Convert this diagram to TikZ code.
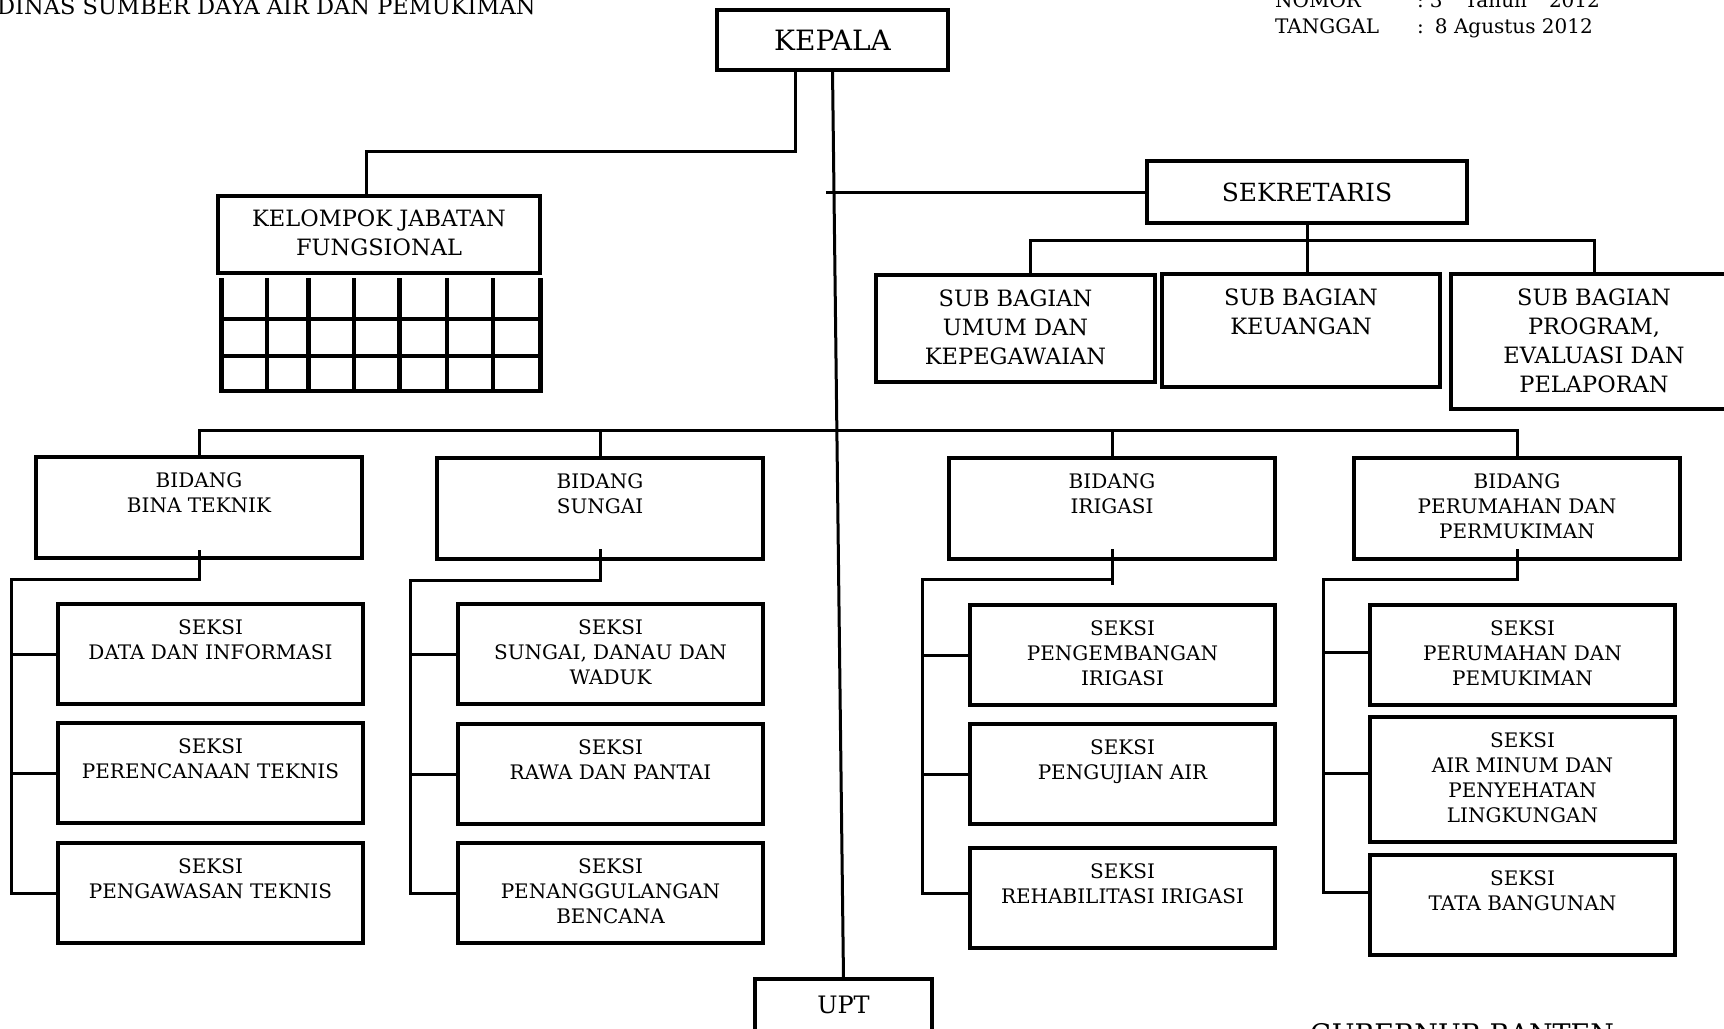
\documentclass[tikz,border=0pt]{standalone}
\usepackage{fontspec}
\setmainfont{DejaVu Serif}
\usetikzlibrary{calc}

\tikzset{
  kotak/.style={draw, line width=3.5pt, inner sep=0pt, outer sep=0pt, anchor=north west},
  isi/.style={anchor=north, yshift=-15pt, align=center, inner sep=0pt, font=\fontsize{20}{25}\selectfont},
  isibesar/.style={isi, font=\fontsize{22.5}{29}\selectfont},
  bidang/.style={kotak, minimum width=326pt, minimum height=101pt},
  seksi/.style={kotak, minimum width=305pt, minimum height=100pt},
  garis/.style={line width=3pt},
  tabel/.style={line width=4.5pt}
}

\begin{document}
\begin{tikzpicture}[x=1pt, y=-1pt]
		\useasboundingbox (0,0) rectangle (1724,1028);
		%Header texts
		\node[anchor=base west, inner sep=0pt, font=\fontsize{22.5}{27}\selectfont] (dinas) at (-3,14) {DINAS SUMBER DAYA AIR DAN PEMUKIMAN};
		\node[anchor=base west, inner sep=0pt, font=\fontsize{20}{26}\selectfont] (nomor) at (1275,7) {\begin{tabular}[t]{@{}p{142pt}@{}l@{}}NOMOR & :\hspace{6pt}3\hspace{22pt}Tahun\hspace{22pt}2012\\ TANGGAL & :\hspace{11pt}8 Agustus 2012\end{tabular}};
		\node[anchor=base west, inner sep=0pt, font=\fontsize{27}{32}\selectfont] (gub) at (1310,1043) {GUBERNUR BANTEN};
		%Kepala and sekretaris
		\node[kotak, anchor=center, minimum width=231pt, minimum height=60pt, font=\fontsize{28}{34}\selectfont] (kepala) at (832.5,40) {KEPALA};
		\node[kotak, anchor=center, minimum width=320pt, minimum height=62pt, font=\fontsize{25}{30}\selectfont] (sek) at (1307,192) {SEKRETARIS};
		\node[kotak, minimum width=322pt, minimum height=77pt, label={[isibesar, yshift=1pt]north:{KELOMPOK JABATAN\\FUNGSIONAL}}] (kjf) at (218,196) {};
		%Sub bagian
		\node[kotak, minimum width=279pt, minimum height=107pt, label={[isibesar]north:{SUB BAGIAN\\UMUM DAN\\KEPEGAWAIAN}}] (umum) at (876,275) {};
		\node[kotak, minimum width=278pt, minimum height=113pt, label={[isibesar]north:{SUB BAGIAN\\KEUANGAN}}] (keu) at (1162,274) {};
		\node[kotak, minimum width=286pt, minimum height=135pt, label={[isibesar]north:{SUB BAGIAN\\PROGRAM,\\EVALUASI DAN\\PELAPORAN}}] (prog) at (1451,274) {};
		%Bidang
		\node[bidang, label={[isi]north:{BIDANG\\BINA TEKNIK}}] (bt) at (36,457) {};
		\node[bidang, label={[isi]north:{BIDANG\\SUNGAI}}] (sg) at (437,458) {};
		\node[bidang, label={[isi]north:{BIDANG\\IRIGASI}}] (ir) at (949,458) {};
		\node[bidang, label={[isi]north:{BIDANG\\PERUMAHAN DAN\\PERMUKIMAN}}] (pr) at (1354,458) {};
		%Seksi
		\node[seksi, label={[isi]north:{SEKSI\\DATA DAN INFORMASI}}] (s11) at (58,604) {};
		\node[seksi, label={[isi]north:{SEKSI\\PERENCANAAN TEKNIS}}] (s12) at (58,723) {};
		\node[seksi, label={[isi]north:{SEKSI\\PENGAWASAN TEKNIS}}] (s13) at (58,843) {};
		\node[seksi, label={[isi]north:{SEKSI\\SUNGAI, DANAU DAN\\WADUK}}] (s21) at (458,604) {};
		\node[seksi, label={[isi]north:{SEKSI\\RAWA DAN PANTAI}}] (s22) at (458,724) {};
		\node[seksi, label={[isi]north:{SEKSI\\PENANGGULANGAN\\BENCANA}}] (s23) at (458,843) {};
		\node[seksi, label={[isi]north:{SEKSI\\PENGEMBANGAN\\IRIGASI}}] (s31) at (970,605) {};
		\node[seksi, label={[isi]north:{SEKSI\\PENGUJIAN AIR}}] (s32) at (970,724) {};
		\node[seksi, label={[isi]north:{SEKSI\\REHABILITASI IRIGASI}}] (s33) at (970,848) {};
		\node[seksi, label={[isi]north:{SEKSI\\PERUMAHAN DAN\\PEMUKIMAN}}] (s41) at (1370,605) {};
		\node[seksi, minimum height=125pt, label={[isi]north:{SEKSI\\AIR MINUM DAN\\PENYEHATAN\\LINGKUNGAN}}] (s42) at (1370,717) {};
		\node[seksi, label={[isi]north:{SEKSI\\TATA BANGUNAN}}] (s43) at (1370,855) {};
		%UPT
		\node[kotak, minimum width=177pt, minimum height=100pt, label={[isi, yshift=-2pt, font=\fontsize{24}{29}\selectfont]north:UPT}] (upt) at (755,979) {};
		%Table under kelompok jabatan fungsional
		\foreach \x in {221.5,267,308.5,354,399.5,447,493,540.5}
			\draw[tabel] (\x,278) -- (\x,393);
		\foreach \y in {319,356,391}
			\draw[tabel] (219,\y) -- (543,\y);
		%Lines
		\coordinate (cab) at (795,151);
		\coordinate (sk) at (826,192);
		\coordinate (bar1) at (0,240);
		\coordinate (bar2) at (0,430);
		\coordinate (k1) at (11,579);
		\coordinate (k2) at (410,580);
		\coordinate (k3) at (922.5,579);
		\coordinate (k4) at (1323,579);
		\draw[garis] (kepala.south) -- (upt.north);
		\draw[garis] (kepala.south -| cab) -- (cab) -| ([xshift=-13pt]kjf.north);
		\draw[garis] (sk) -- (sek.west);
		\draw[garis] (sek.south) -- (sek.south |- keu.north);
		\draw[garis] ([xshift=15pt]umum.north) |- (bar1 -| prog.north) -- (prog.north);
		\draw[garis] (bt.north) |- (bar2 -| pr.north) -- (pr.north);
		\draw[garis] (sg.north) -- (sg.north |- bar2);
		\draw[garis] (ir.north) -- (ir.north |- bar2);
		%Bidang to seksi
		\draw[garis] ([yshift=8pt]bt.south) |- (k1) |- (s13.west);
		\draw[garis] (k1 |- s11.west) -- (s11.west);
		\draw[garis] (k1 |- s12.west) -- (s12.west);
		\draw[garis] ([yshift=10pt]sg.south) |- (k2) |- (s23.west);
		\draw[garis] (k2 |- s21.west) -- (s21.west);
		\draw[garis] (k2 |- s22.west) -- (s22.west);
		\draw[garis] ([yshift=10pt]ir.south) |- (k3) |- ([yshift=5pt]s33.west);
		\draw[garis] (ir.south |- k3) -- ++(0,6);
		\draw[garis] (k3 |- s31.west) -- (s31.west);
		\draw[garis] (k3 |- s32.west) -- (s32.west);
		\draw[garis] ([yshift=10pt]pr.south) |- (k4) |- ([yshift=12.5pt]s43.west);
		\draw[garis] ([yshift=3pt]s41.west) -- ++(-47,0);
		\draw[garis] ([yshift=6.5pt]s42.west) -- ++(-47,0);
	\end{tikzpicture}
\end{document}
